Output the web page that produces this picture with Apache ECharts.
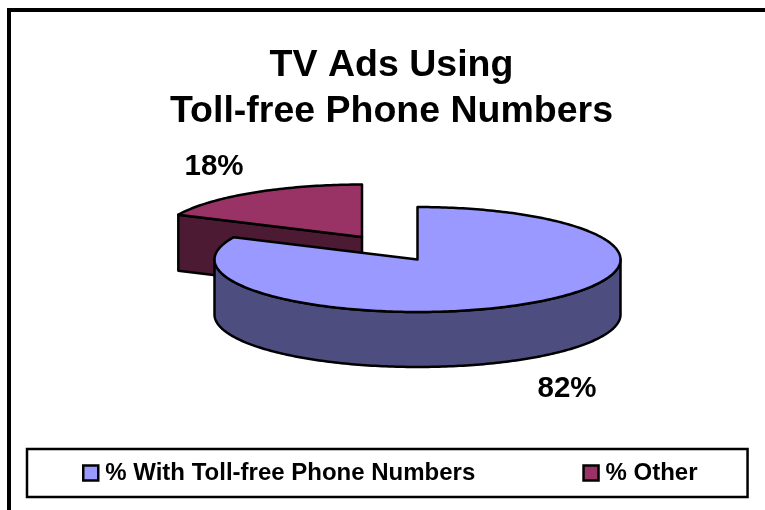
<!DOCTYPE html>
<html><head><meta charset="utf-8">
<script src="https://cdn.jsdelivr.net/npm/echarts@6/dist/echarts.min.js"></script>
<style>html,body{margin:0;padding:0;background:#fff}#c{width:765px;height:510px}</style>
</head><body><div id="c"></div>
<script>
var categories = ['% With Toll-free Phone Numbers', '% Other'];
var values = [82, 18];
var topColors = ['#9999FF', '#993366'];
var sideColors = ['#4D4D80', '#4D1A33'];

var FONT = '"Liberation Sans", Arial, sans-serif';
var RX = 203, RY = 52.5;
var depths = [55, 56];
var centers = [[417.5, 259.5], [362, 237]];
var labelPos = [[567, 389], [214, 167]];
var total = values.reduce(function (a, b) { return a + b; }, 0);

function pt(c, deg, dy) {
  var r = deg * Math.PI / 180;
  return [c[0] + RX * Math.sin(r), c[1] - RY * Math.cos(r) + (dy || 0)];
}
function arc(c, a, b, dy) {
  var out = [], n = Math.max(2, Math.ceil(Math.abs(b - a) / 1));
  for (var i = 0; i <= n; i++) out.push(pt(c, a + (b - a) * i / n, dy));
  return out;
}
function poly(points, fill, z) {
  return { type: 'polygon', z2: z, shape: { points: points },
    style: { fill: fill, stroke: '#000', lineWidth: 2.5, lineJoin: 'round' } };
}
function makeRender(idx) {
  return function (params, api) {
    var before = 0;
    for (var i = 0; i < idx; i++) before += values[i];
    var a0 = before / total * 360, a1 = (before + api.value(0)) / total * 360;
    var c = centers[idx], d = depths[idx], kids = [];
    // Outer wall: the visible part of the rim is the front half (90deg..270deg)
    var fa = Math.max(a0, 90), fb = Math.min(a1, 270);
    if (fb > fa) {
      kids.push(poly(arc(c, fa, fb, 0).concat(arc(c, fb, fa, d)), sideColors[idx], 1));
    }
    // Cut wall visible for a slice whose start edge lies in the back-left quadrant
    if (a0 > 270) {
      var p = pt(c, a0, 0);
      kids.push(poly([p, c, [c[0], c[1] + d], [p[0], p[1] + d]], sideColors[idx], 1));
    }
    // Top face
    kids.push(poly([c].concat(arc(c, a0, a1, 0)), topColors[idx], 2));
    // Percentage label
    kids.push({ type: 'text', z2: 3, style: {
      x: labelPos[idx][0], y: labelPos[idx][1], text: api.value(0) + '%',
      fill: '#000', font: 'bold 29.5px ' + FONT, textAlign: 'center', textVerticalAlign: 'middle' } });
    return { type: 'group', children: kids };
  };
}

var chart = echarts.init(document.getElementById('c'), null, { renderer: 'canvas' });
chart.setOption({
  animation: false,
  backgroundColor: '#fff',
  title: {
    text: 'TV Ads Using\nToll-free Phone Numbers',
    left: 386.5, top: 37, textAlign: 'center',
    textStyle: { fontFamily: FONT, fontWeight: 'bold', fontSize: 37.5, lineHeight: 46.5, color: '#000' }
  },
  graphic: [{
    type: 'polyline', silent: true,
    shape: { points: [[9, 515], [9, 10], [770, 10]] },
    style: { fill: null, stroke: '#000', lineWidth: 4 }
  }],
  legend: {
    left: 27, top: 449,
    data: categories,
    selectedMode: false,
    icon: 'rect',
    itemWidth: 15, itemHeight: 15, itemGap: 107,
    padding: [12, 50, 12, 55],
    borderColor: '#000', borderWidth: 2.5, backgroundColor: '#fff',
    itemStyle: { borderColor: '#000', borderWidth: 2.5 },
    textStyle: { fontFamily: FONT, fontWeight: 'bold', fontSize: 24, color: '#000', padding: [0, 0, 0, 2] }
  },
  // Drawn back slice first, front slice on top of it
  series: [1, 0].map(function (i) {
    return {
      type: 'custom', name: categories[i], coordinateSystem: 'none', silent: true,
      itemStyle: { color: topColors[i] },
      encode: { value: 0 },
      data: [[values[i]]],
      renderItem: makeRender(i)
    };
  })
});
</script></body></html>
